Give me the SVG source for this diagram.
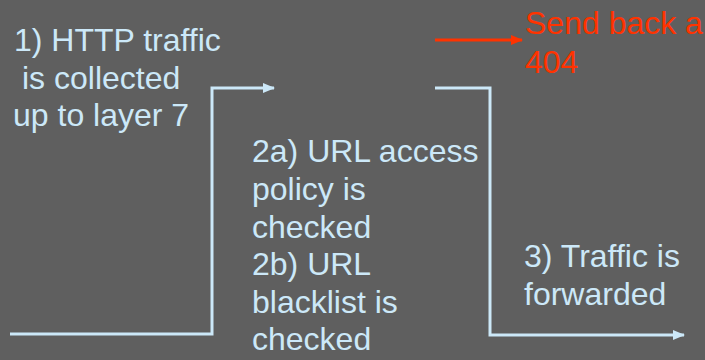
<svg xmlns="http://www.w3.org/2000/svg" width="705" height="360" viewBox="0 0 705 360">
  <style>
    .lbl { font-family: "Liberation Sans", Arial, sans-serif; font-size: 32px; fill: #cce8f8; }
    .red { fill: #ff3300; }
    .flow { fill: none; stroke: #cce8f8; stroke-width: 3; }
    .rflow { fill: none; stroke: #ff3300; stroke-width: 3; }
  </style>
  <defs>
    <marker id="ah" viewBox="0 0 12 10" refX="11" refY="5" markerWidth="12" markerHeight="10" markerUnits="userSpaceOnUse" orient="auto">
      <path d="M0,0 L12,5 L0,10 z" fill="#cce8f8"/>
    </marker>
    <marker id="ahr" viewBox="0 0 12 10" refX="11" refY="5" markerWidth="12" markerHeight="10" markerUnits="userSpaceOnUse" orient="auto">
      <path d="M0,0 L12,5 L0,10 z" fill="#ff3300"/>
    </marker>
  </defs>
  <rect width="705" height="360" fill="#5f5f5f"/>

  <g id="connectors">
    <polyline class="flow" points="10,334 212,334 212,88 274,88" marker-end="url(#ah)"/>
    <polyline class="flow" points="435,88 490,88 490,335 684,335" marker-end="url(#ah)"/>
    <line class="rflow" x1="435" y1="40" x2="522" y2="40" marker-end="url(#ahr)"/>
  </g>

  <g id="collect">
    <text class="lbl" x="14" y="51">1) HTTP traffic</text>
    <text class="lbl" x="22" y="89">is collected</text>
    <text class="lbl" x="13" y="126">up to layer 7</text>
  </g>

  <g id="check">
    <text class="lbl" x="252" y="162">2a) URL access</text>
    <text class="lbl" x="252" y="200">policy is</text>
    <text class="lbl" x="252" y="238">checked</text>
    <text class="lbl" x="252" y="275">2b) URL</text>
    <text class="lbl" x="252" y="313">blacklist is</text>
    <text class="lbl" x="252" y="350">checked</text>
  </g>

  <g id="reject">
    <text class="lbl red" x="525" y="34">Send back a</text>
    <text class="lbl red" x="525" y="73">404</text>
  </g>

  <g id="forward">
    <text class="lbl" x="524" y="267">3) Traffic is</text>
    <text class="lbl" x="524" y="305">forwarded</text>
  </g>
</svg>
